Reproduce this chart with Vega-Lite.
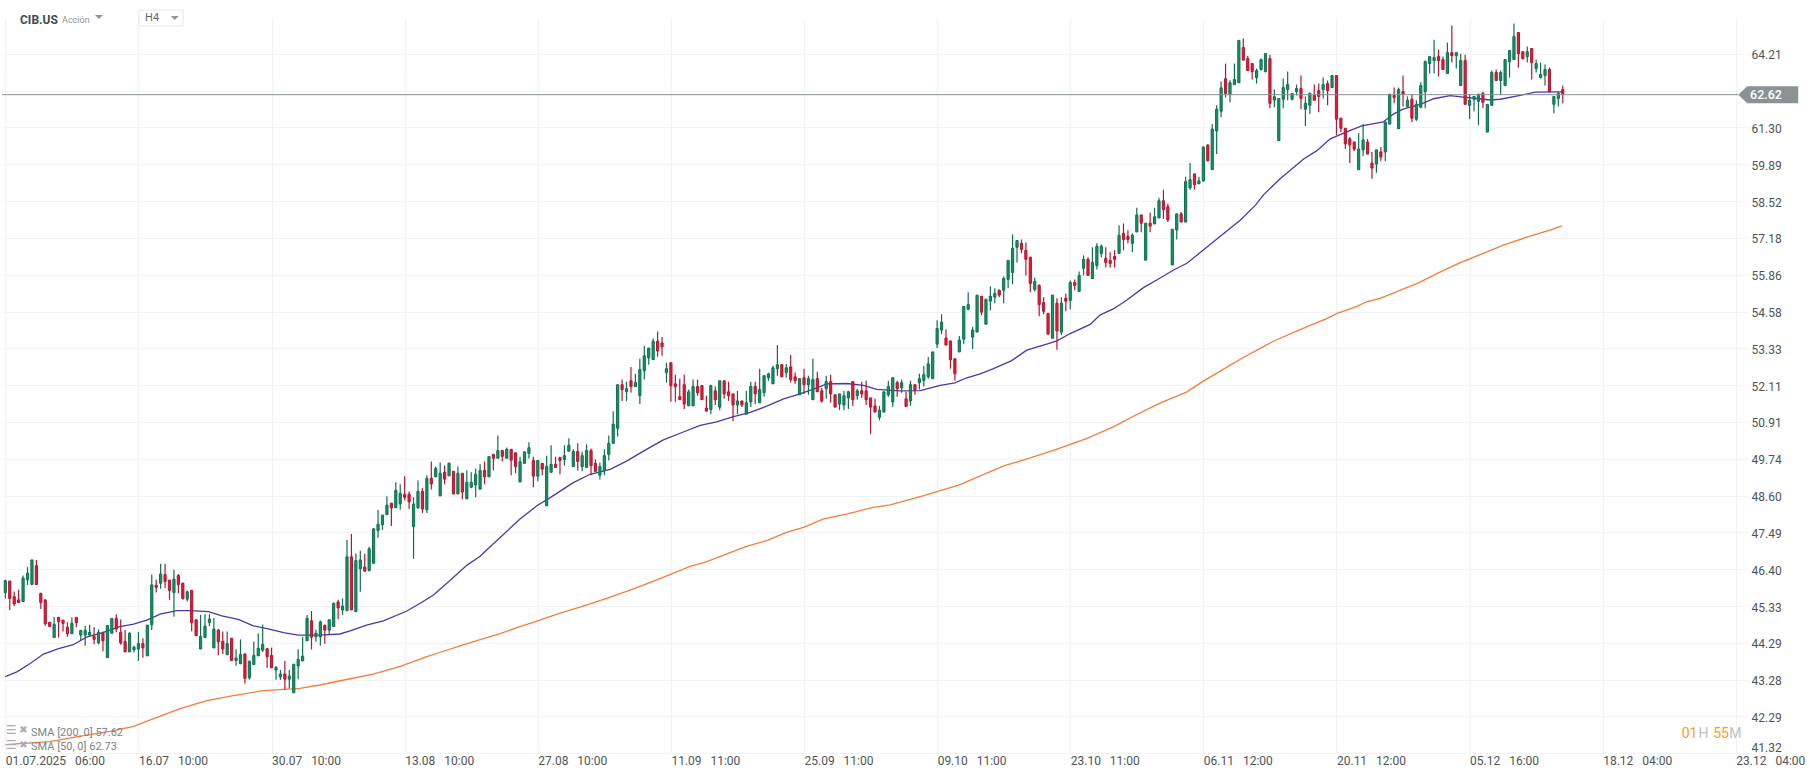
{
"$schema":"https://vega.github.io/schema/vega-lite/v6.json",
"width":1747,"height":735,"autosize":"none",
"padding":{"left":2,"top":18,"right":61,"bottom":26},
"background":"white",
"config":{"view":{"stroke":null},"font":"Roboto"},
"data":{"values":[{}]},
"datasets":{
"candles":[
{"i":0,"o":45.72,"h":46.09,"l":45.55,"c":46.06},{"i":1,"o":46.05,"h":46.06,"l":45.22,"c":45.55},{"i":2,"o":45.6,"h":45.75,"l":45.33,"c":45.39},{"i":3,"o":45.51,"h":45.8,"l":45.43,"c":45.43},{"i":4,"o":45.46,"h":46.21,"l":45.46,"c":46.14},{"i":5,"o":46.09,"h":46.46,"l":45.94,"c":46.28},{"i":6,"o":45.95,"h":46.67,"l":45.95,"c":46.67},{"i":7,"o":46.5,"h":46.67,"l":45.95,"c":45.95},{"i":8,"o":45.7,"h":45.7,"l":45.25,"c":45.43},{"i":9,"o":45.5,"h":45.53,"l":44.77,"c":44.83},
{"i":10,"o":44.87,"h":44.87,"l":44.75,"c":44.75},{"i":11,"o":44.44,"h":45.02,"l":44.44,"c":44.81},{"i":12,"o":45.01,"h":45.01,"l":44.44,"c":44.89},{"i":13,"o":44.93,"h":44.93,"l":44.61,"c":44.84},{"i":14,"o":44.73,"h":44.87,"l":44.46,"c":44.55},{"i":15,"o":44.55,"h":45.01,"l":44.55,"c":44.84},{"i":16,"o":45.01,"h":45.01,"l":44.73,"c":44.86},{"i":17,"o":44.51,"h":44.64,"l":44.37,"c":44.64},{"i":18,"o":44.51,"h":44.77,"l":44.21,"c":44.64},{"i":19,"o":44.51,"h":44.8,"l":44.46,"c":44.59},
{"i":20,"o":44.47,"h":44.73,"l":44.25,"c":44.39},{"i":21,"o":44.29,"h":44.67,"l":44.25,"c":44.59},{"i":22,"o":44.56,"h":44.61,"l":44.06,"c":44.35},{"i":23,"o":43.88,"h":44.78,"l":43.88,"c":44.78},{"i":24,"o":44.56,"h":44.98,"l":44.56,"c":44.98},{"i":25,"o":44.98,"h":45.1,"l":44.59,"c":44.68},{"i":26,"o":44.59,"h":44.95,"l":44.24,"c":44.29},{"i":27,"o":44.33,"h":44.65,"l":44.04,"c":44.04},{"i":28,"o":44.04,"h":44.59,"l":44.04,"c":44.56},{"i":29,"o":44.1,"h":44.21,"l":44.02,"c":44.17},
{"i":30,"o":44.12,"h":44.6,"l":43.79,"c":44.27},{"i":31,"o":44.27,"h":44.42,"l":43.88,"c":44.15},{"i":32,"o":43.93,"h":44.79,"l":43.93,"c":44.79},{"i":33,"o":44.8,"h":46.24,"l":44.65,"c":45.94},{"i":34,"o":45.93,"h":46.09,"l":45.72,"c":45.87},{"i":35,"o":45.99,"h":46.56,"l":45.83,"c":46.26},{"i":36,"o":46.24,"h":46.56,"l":45.85,"c":46.04},{"i":37,"o":46.08,"h":46.08,"l":45.51,"c":45.78},{"i":38,"o":45.72,"h":46.38,"l":45.03,"c":46.11},{"i":39,"o":46.21,"h":46.26,"l":45.7,"c":45.95},
{"i":40,"o":45.99,"h":45.99,"l":45.51,"c":45.55},{"i":41,"o":45.53,"h":45.78,"l":45.46,"c":45.74},{"i":42,"o":45.78,"h":45.8,"l":44.62,"c":44.86},{"i":43,"o":44.94,"h":44.95,"l":44.49,"c":44.49},{"i":44,"o":44.12,"h":45.08,"l":44.12,"c":44.47},{"i":45,"o":44.44,"h":45.1,"l":44.44,"c":44.76},{"i":46,"o":44.86,"h":45.1,"l":44.76,"c":44.96},{"i":47,"o":44.15,"h":44.99,"l":44.15,"c":44.68},{"i":48,"o":44.65,"h":44.68,"l":43.95,"c":44.32},{"i":49,"o":44.33,"h":44.61,"l":43.98,"c":44.12},
{"i":50,"o":43.96,"h":44.61,"l":43.96,"c":44.27},{"i":51,"o":44.42,"h":44.42,"l":43.8,"c":43.8},{"i":52,"o":43.8,"h":44.11,"l":43.66,"c":43.87},{"i":53,"o":43.71,"h":44.39,"l":43.71,"c":43.97},{"i":54,"o":43.98,"h":44.0,"l":43.17,"c":43.31},{"i":55,"o":43.33,"h":43.8,"l":43.27,"c":43.78},{"i":56,"o":43.69,"h":44.32,"l":43.69,"c":43.94},{"i":57,"o":43.93,"h":44.56,"l":43.93,"c":44.14},{"i":58,"o":44.09,"h":44.81,"l":44.04,"c":44.25},{"i":59,"o":44.13,"h":44.13,"l":43.6,"c":43.91},
{"i":60,"o":43.94,"h":44.16,"l":43.59,"c":43.6},{"i":61,"o":43.54,"h":43.65,"l":43.27,"c":43.61},{"i":62,"o":43.35,"h":43.54,"l":43.27,"c":43.43},{"i":63,"o":43.43,"h":43.79,"l":43.0,"c":43.29},{"i":64,"o":43.29,"h":43.54,"l":43.04,"c":43.37},{"i":65,"o":42.92,"h":43.7,"l":42.92,"c":43.7},{"i":66,"o":43.65,"h":44.11,"l":43.29,"c":43.83},{"i":67,"o":43.79,"h":44.46,"l":43.79,"c":43.92},{"i":68,"o":44.35,"h":45.08,"l":44.35,"c":44.98},{"i":69,"o":44.91,"h":45.19,"l":44.11,"c":44.45},
{"i":70,"o":44.46,"h":44.66,"l":44.32,"c":44.56},{"i":71,"o":44.46,"h":44.92,"l":44.21,"c":44.88},{"i":72,"o":44.78,"h":44.81,"l":44.27,"c":44.65},{"i":73,"o":44.65,"h":44.94,"l":44.51,"c":44.94},{"i":74,"o":44.75,"h":45.43,"l":44.75,"c":45.41},{"i":75,"o":45.45,"h":45.51,"l":44.96,"c":45.28},{"i":76,"o":45.22,"h":45.55,"l":45.08,"c":45.33},{"i":77,"o":45.2,"h":47.26,"l":45.2,"c":46.76},{"i":78,"o":46.76,"h":47.44,"l":45.22,"c":45.22},{"i":79,"o":45.17,"h":46.86,"l":45.17,"c":46.65},
{"i":80,"o":46.41,"h":46.94,"l":45.74,"c":46.67},{"i":81,"o":46.46,"h":46.85,"l":46.34,"c":46.34},{"i":82,"o":46.36,"h":47.06,"l":46.33,"c":47.0},{"i":83,"o":46.57,"h":47.62,"l":46.57,"c":47.59},{"i":84,"o":47.54,"h":48.16,"l":47.33,"c":47.73},{"i":85,"o":47.72,"h":48.01,"l":47.56,"c":48.01},{"i":86,"o":48.02,"h":48.58,"l":48.02,"c":48.31},{"i":87,"o":48.37,"h":48.37,"l":47.68,"c":48.23},{"i":88,"o":48.23,"h":49.01,"l":48.23,"c":48.76},{"i":89,"o":48.35,"h":48.95,"l":48.17,"c":48.67},
{"i":90,"o":48.64,"h":49.2,"l":48.46,"c":48.55},{"i":91,"o":48.64,"h":48.73,"l":48.19,"c":48.41},{"i":92,"o":47.66,"h":48.55,"l":46.7,"c":48.34},{"i":93,"o":48.23,"h":49.07,"l":48.19,"c":48.73},{"i":94,"o":48.73,"h":48.83,"l":48.07,"c":48.19},{"i":95,"o":48.17,"h":49.23,"l":48.07,"c":49.13},{"i":96,"o":49.13,"h":49.66,"l":48.79,"c":48.96},{"i":97,"o":49.18,"h":49.5,"l":49.18,"c":49.44},{"i":98,"o":48.59,"h":49.63,"l":48.59,"c":49.29},{"i":99,"o":49.32,"h":49.53,"l":48.95,"c":49.11},
{"i":100,"o":49.21,"h":49.63,"l":49.21,"c":49.6},{"i":101,"o":49.35,"h":49.35,"l":48.65,"c":48.65},{"i":102,"o":48.65,"h":49.5,"l":48.65,"c":49.29},{"i":103,"o":49.29,"h":49.29,"l":48.49,"c":48.71},{"i":104,"o":48.5,"h":49.38,"l":48.5,"c":49.01},{"i":105,"o":48.86,"h":49.32,"l":48.83,"c":49.01},{"i":106,"o":48.93,"h":49.44,"l":48.55,"c":49.26},{"i":107,"o":48.8,"h":49.57,"l":48.8,"c":49.38},{"i":108,"o":49.38,"h":49.66,"l":48.95,"c":49.18},{"i":109,"o":49.18,"h":49.81,"l":49.18,"c":49.81},
{"i":110,"o":49.88,"h":49.9,"l":49.38,"c":49.76},{"i":111,"o":49.76,"h":50.48,"l":49.76,"c":50.0},{"i":112,"o":50.0,"h":50.0,"l":49.66,"c":49.82},{"i":113,"o":49.76,"h":50.1,"l":49.76,"c":50.04},{"i":114,"o":50.04,"h":50.04,"l":49.23,"c":49.7},{"i":115,"o":49.93,"h":49.93,"l":49.29,"c":49.5},{"i":116,"o":49.02,"h":49.81,"l":49.02,"c":49.65},{"i":117,"o":49.6,"h":49.96,"l":49.6,"c":49.96},{"i":118,"o":49.91,"h":50.26,"l":49.75,"c":50.09},{"i":119,"o":49.69,"h":49.81,"l":48.86,"c":49.2},
{"i":120,"o":49.2,"h":49.69,"l":49.04,"c":49.69},{"i":121,"o":49.6,"h":49.6,"l":49.23,"c":49.42},{"i":122,"o":48.29,"h":49.84,"l":48.29,"c":49.5},{"i":123,"o":49.32,"h":50.17,"l":49.32,"c":49.57},{"i":124,"o":49.57,"h":49.81,"l":49.47,"c":49.47},{"i":125,"o":49.78,"h":49.81,"l":49.26,"c":49.69},{"i":126,"o":49.72,"h":50.17,"l":49.53,"c":49.84},{"i":127,"o":49.98,"h":50.39,"l":49.98,"c":50.17},{"i":128,"o":49.5,"h":50.04,"l":49.5,"c":49.97},{"i":129,"o":49.97,"h":50.23,"l":49.38,"c":49.66},
{"i":130,"o":49.5,"h":49.97,"l":49.35,"c":49.84},{"i":131,"o":49.47,"h":50.2,"l":49.47,"c":50.0},{"i":132,"o":50.0,"h":50.07,"l":49.23,"c":49.53},{"i":133,"o":49.6,"h":49.72,"l":49.35,"c":49.35},{"i":134,"o":49.23,"h":49.63,"l":49.1,"c":49.5},{"i":135,"o":49.37,"h":50.04,"l":49.23,"c":49.84},{"i":136,"o":49.88,"h":50.48,"l":49.69,"c":50.23},{"i":137,"o":50.23,"h":51.26,"l":50.23,"c":50.84},{"i":138,"o":50.71,"h":52.12,"l":50.45,"c":52.12},{"i":139,"o":52.12,"h":52.29,"l":51.59,"c":51.96},
{"i":140,"o":51.89,"h":52.22,"l":51.59,"c":51.99},{"i":141,"o":52.25,"h":52.71,"l":51.86,"c":52.06},{"i":142,"o":52.06,"h":52.48,"l":52.06,"c":52.19},{"i":143,"o":51.76,"h":52.98,"l":51.49,"c":52.62},{"i":144,"o":52.58,"h":53.41,"l":52.29,"c":53.08},{"i":145,"o":53.01,"h":53.34,"l":52.78,"c":53.34},{"i":146,"o":52.95,"h":53.67,"l":52.95,"c":53.57},{"i":147,"o":53.57,"h":53.9,"l":53.05,"c":53.24},{"i":148,"o":53.51,"h":53.71,"l":53.08,"c":53.38},{"i":149,"o":52.52,"h":52.85,"l":52.19,"c":52.65},
{"i":150,"o":52.85,"h":52.85,"l":51.56,"c":52.09},{"i":151,"o":52.15,"h":52.45,"l":51.56,"c":52.06},{"i":152,"o":51.73,"h":52.32,"l":51.63,"c":51.63},{"i":153,"o":52.12,"h":52.45,"l":51.33,"c":51.49},{"i":154,"o":51.43,"h":51.96,"l":51.43,"c":51.89},{"i":155,"o":51.43,"h":52.29,"l":51.43,"c":52.06},{"i":156,"o":52.06,"h":52.29,"l":51.76,"c":51.86},{"i":157,"o":52.09,"h":52.09,"l":51.63,"c":51.63},{"i":158,"o":51.36,"h":51.76,"l":51.26,"c":51.26},{"i":159,"o":51.31,"h":52.12,"l":51.16,"c":52.09},
{"i":160,"o":51.92,"h":52.06,"l":51.46,"c":51.63},{"i":161,"o":51.39,"h":52.25,"l":51.29,"c":52.25},{"i":162,"o":52.25,"h":52.25,"l":51.66,"c":51.82},{"i":163,"o":51.89,"h":52.22,"l":51.59,"c":51.76},{"i":164,"o":51.82,"h":51.82,"l":50.93,"c":51.46},{"i":165,"o":51.46,"h":51.92,"l":51.16,"c":51.59},{"i":166,"o":51.59,"h":51.59,"l":51.39,"c":51.46},{"i":167,"o":51.16,"h":51.92,"l":51.16,"c":51.53},{"i":168,"o":51.56,"h":52.22,"l":51.39,"c":52.06},{"i":169,"o":52.06,"h":52.22,"l":51.49,"c":51.82},
{"i":170,"o":51.53,"h":52.65,"l":51.53,"c":51.96},{"i":171,"o":51.86,"h":52.42,"l":51.73,"c":52.42},{"i":172,"o":52.35,"h":52.52,"l":52.25,"c":52.48},{"i":173,"o":52.15,"h":52.75,"l":52.15,"c":52.68},{"i":174,"o":52.65,"h":53.44,"l":52.42,"c":52.78},{"i":175,"o":52.78,"h":52.81,"l":52.38,"c":52.38},{"i":176,"o":52.52,"h":52.81,"l":52.35,"c":52.68},{"i":177,"o":52.71,"h":53.11,"l":52.19,"c":52.29},{"i":178,"o":52.38,"h":52.52,"l":52.15,"c":52.25},{"i":179,"o":51.79,"h":52.32,"l":51.79,"c":52.32},
{"i":180,"o":52.35,"h":52.65,"l":51.82,"c":52.12},{"i":181,"o":52.12,"h":52.42,"l":51.79,"c":52.32},{"i":182,"o":51.63,"h":52.98,"l":51.63,"c":52.29},{"i":183,"o":52.32,"h":52.55,"l":51.89,"c":51.89},{"i":184,"o":51.92,"h":52.02,"l":51.53,"c":51.59},{"i":185,"o":51.99,"h":52.42,"l":51.66,"c":52.22},{"i":186,"o":52.22,"h":52.45,"l":51.53,"c":51.82},{"i":187,"o":51.79,"h":51.79,"l":51.39,"c":51.39},{"i":188,"o":51.49,"h":51.82,"l":51.29,"c":51.82},{"i":189,"o":51.46,"h":51.92,"l":51.29,"c":51.76},
{"i":190,"o":51.69,"h":51.92,"l":51.33,"c":51.89},{"i":191,"o":52.22,"h":52.22,"l":51.43,"c":51.63},{"i":192,"o":51.76,"h":51.99,"l":51.63,"c":51.92},{"i":193,"o":51.92,"h":52.22,"l":51.69,"c":51.82},{"i":194,"o":51.92,"h":52.25,"l":51.46,"c":51.63},{"i":195,"o":51.69,"h":51.69,"l":50.52,"c":51.39},{"i":196,"o":51.43,"h":51.66,"l":51.23,"c":51.23},{"i":197,"o":51.06,"h":51.43,"l":50.96,"c":51.29},{"i":198,"o":51.23,"h":51.89,"l":51.23,"c":51.89},{"i":199,"o":51.79,"h":52.25,"l":51.73,"c":52.06},
{"i":200,"o":51.56,"h":52.35,"l":51.39,"c":52.35},{"i":201,"o":52.19,"h":52.25,"l":51.73,"c":51.99},{"i":202,"o":52.02,"h":52.29,"l":51.86,"c":52.19},{"i":203,"o":51.66,"h":51.89,"l":51.41,"c":51.41},{"i":204,"o":51.59,"h":52.25,"l":51.43,"c":52.12},{"i":205,"o":52.12,"h":52.12,"l":51.79,"c":51.95},{"i":206,"o":52.19,"h":52.48,"l":51.96,"c":52.32},{"i":207,"o":52.26,"h":52.74,"l":52.06,"c":52.45},{"i":208,"o":52.38,"h":53.04,"l":52.32,"c":52.81},{"i":209,"o":52.32,"h":53.21,"l":52.32,"c":53.21},
{"i":210,"o":53.47,"h":54.28,"l":53.34,"c":54.0},{"i":211,"o":53.95,"h":54.49,"l":53.81,"c":54.22},{"i":212,"o":53.68,"h":53.98,"l":53.44,"c":53.44},{"i":213,"o":53.58,"h":53.58,"l":52.65,"c":52.95},{"i":214,"o":52.98,"h":52.98,"l":52.25,"c":52.48},{"i":215,"o":53.21,"h":53.75,"l":53.21,"c":53.61},{"i":216,"o":53.64,"h":54.76,"l":53.47,"c":54.76},{"i":217,"o":54.66,"h":55.25,"l":54.63,"c":54.82},{"i":218,"o":53.71,"h":54.05,"l":53.31,"c":53.95},{"i":219,"o":53.88,"h":55.15,"l":53.88,"c":55.15},
{"i":220,"o":55.11,"h":55.11,"l":54.46,"c":54.56},{"i":221,"o":54.15,"h":55.01,"l":54.15,"c":55.01},{"i":222,"o":54.94,"h":55.46,"l":54.63,"c":55.11},{"i":223,"o":55.08,"h":55.39,"l":54.87,"c":55.21},{"i":224,"o":55.32,"h":55.35,"l":55.08,"c":55.15},{"i":225,"o":55.32,"h":55.8,"l":54.87,"c":55.73},{"i":226,"o":55.7,"h":56.37,"l":55.39,"c":56.37},{"i":227,"o":55.94,"h":57.3,"l":55.53,"c":56.8},{"i":228,"o":56.84,"h":57.08,"l":56.3,"c":57.08},{"i":229,"o":56.98,"h":57.12,"l":56.62,"c":56.76},
{"i":230,"o":56.73,"h":57.01,"l":55.84,"c":56.41},{"i":231,"o":56.48,"h":56.51,"l":55.25,"c":55.56},{"i":232,"o":55.35,"h":55.77,"l":55.28,"c":55.63},{"i":233,"o":55.49,"h":55.53,"l":54.42,"c":54.82},{"i":234,"o":54.89,"h":55.08,"l":54.49,"c":54.59},{"i":235,"o":54.52,"h":54.52,"l":53.81,"c":53.81},{"i":236,"o":53.67,"h":55.15,"l":53.67,"c":55.15},{"i":237,"o":54.87,"h":55.04,"l":53.28,"c":53.92},{"i":238,"o":53.88,"h":55.08,"l":53.78,"c":54.87},{"i":239,"o":55.04,"h":55.21,"l":54.59,"c":54.94},
{"i":240,"o":54.97,"h":55.66,"l":54.66,"c":55.59},{"i":241,"o":55.59,"h":55.7,"l":55.32,"c":55.49},{"i":242,"o":55.28,"h":55.98,"l":55.28,"c":55.84},{"i":243,"o":56.09,"h":56.55,"l":55.84,"c":56.41},{"i":244,"o":56.41,"h":56.48,"l":55.84,"c":55.84},{"i":245,"o":55.73,"h":56.84,"l":55.73,"c":56.3},{"i":246,"o":56.19,"h":56.98,"l":56.05,"c":56.87},{"i":247,"o":56.62,"h":56.94,"l":56.48,"c":56.87},{"i":248,"o":56.44,"h":56.84,"l":56.12,"c":56.3},{"i":249,"o":56.37,"h":56.66,"l":56.12,"c":56.26},
{"i":250,"o":56.51,"h":56.73,"l":56.12,"c":56.41},{"i":251,"o":56.62,"h":57.63,"l":56.62,"c":57.27},{"i":252,"o":57.34,"h":57.7,"l":56.73,"c":57.12},{"i":253,"o":57.23,"h":57.45,"l":56.98,"c":57.12},{"i":254,"o":56.98,"h":57.34,"l":56.66,"c":57.27},{"i":255,"o":57.39,"h":58.27,"l":57.39,"c":58.01},{"i":256,"o":58.01,"h":58.01,"l":57.38,"c":57.71},{"i":257,"o":56.38,"h":57.71,"l":56.38,"c":57.71},{"i":258,"o":57.71,"h":58.09,"l":57.38,"c":57.6},{"i":259,"o":57.68,"h":58.27,"l":57.68,"c":57.94},
{"i":260,"o":57.9,"h":58.64,"l":57.9,"c":58.53},{"i":261,"o":58.53,"h":58.94,"l":57.86,"c":58.2},{"i":262,"o":58.31,"h":58.42,"l":57.75,"c":57.83},{"i":263,"o":56.21,"h":57.49,"l":56.21,"c":57.49},{"i":264,"o":57.46,"h":58.05,"l":57.12,"c":58.05},{"i":265,"o":58.05,"h":58.12,"l":57.75,"c":57.75},{"i":266,"o":57.75,"h":59.42,"l":57.75,"c":59.24},{"i":267,"o":59.01,"h":59.94,"l":58.94,"c":59.31},{"i":268,"o":59.53,"h":59.53,"l":58.94,"c":59.13},{"i":269,"o":59.16,"h":59.42,"l":59.16,"c":59.27},
{"i":270,"o":59.27,"h":60.58,"l":59.24,"c":60.54},{"i":271,"o":60.62,"h":60.66,"l":60.02,"c":60.02},{"i":272,"o":59.69,"h":61.43,"l":59.69,"c":61.24},{"i":273,"o":61.17,"h":62.16,"l":60.28,"c":62.01},{"i":274,"o":61.93,"h":63.1,"l":61.7,"c":62.85},{"i":275,"o":63.21,"h":63.82,"l":62.47,"c":62.63},{"i":276,"o":62.58,"h":63.15,"l":62.28,"c":63.05},{"i":277,"o":62.98,"h":63.82,"l":62.98,"c":63.18},{"i":278,"o":63.05,"h":64.79,"l":63.05,"c":64.75},{"i":279,"o":64.47,"h":64.84,"l":63.94,"c":63.96},
{"i":280,"o":64.02,"h":64.14,"l":63.54,"c":63.54},{"i":281,"o":63.82,"h":63.82,"l":63.18,"c":63.5},{"i":282,"o":63.26,"h":63.62,"l":63.02,"c":63.54},{"i":283,"o":63.58,"h":64.02,"l":63.54,"c":63.98},{"i":284,"o":63.5,"h":64.22,"l":63.46,"c":64.22},{"i":285,"o":64.02,"h":64.18,"l":62.05,"c":62.24},{"i":286,"o":62.37,"h":62.78,"l":62.09,"c":62.5},{"i":287,"o":60.79,"h":62.43,"l":60.79,"c":62.43},{"i":288,"o":62.4,"h":63.22,"l":62.05,"c":62.86},{"i":289,"o":62.78,"h":63.5,"l":62.36,"c":62.98},
{"i":290,"o":62.4,"h":62.63,"l":62.36,"c":62.63},{"i":291,"o":62.7,"h":62.98,"l":62.55,"c":62.82},{"i":292,"o":62.82,"h":63.34,"l":62.01,"c":62.43},{"i":293,"o":62.01,"h":62.51,"l":61.35,"c":62.24},{"i":294,"o":62.16,"h":62.67,"l":61.82,"c":62.63},{"i":295,"o":62.55,"h":62.98,"l":62.36,"c":62.36},{"i":296,"o":62.74,"h":63.02,"l":61.89,"c":62.51},{"i":297,"o":62.78,"h":63.26,"l":62.43,"c":62.98},{"i":298,"o":63.02,"h":63.14,"l":62.16,"c":62.74},{"i":299,"o":62.86,"h":63.34,"l":62.86,"c":63.34},
{"i":300,"o":63.34,"h":63.34,"l":61.01,"c":61.62},{"i":301,"o":61.66,"h":61.66,"l":61.12,"c":61.27},{"i":302,"o":61.27,"h":61.27,"l":60.47,"c":60.67},{"i":303,"o":60.86,"h":60.93,"l":59.94,"c":60.63},{"i":304,"o":60.74,"h":60.74,"l":60.4,"c":60.47},{"i":305,"o":59.69,"h":61.08,"l":59.69,"c":60.47},{"i":306,"o":60.44,"h":61.43,"l":60.21,"c":60.82},{"i":307,"o":60.74,"h":60.86,"l":60.28,"c":60.28},{"i":308,"o":59.94,"h":60.36,"l":59.35,"c":59.75},{"i":309,"o":59.9,"h":60.44,"l":59.57,"c":60.44},
{"i":310,"o":60.36,"h":60.55,"l":60.02,"c":60.17},{"i":311,"o":60.36,"h":61.51,"l":60.02,"c":61.51},{"i":312,"o":61.43,"h":62.63,"l":61.43,"c":62.59},{"i":313,"o":62.55,"h":62.86,"l":62.24,"c":62.47},{"i":314,"o":61.25,"h":62.86,"l":61.25,"c":62.78},{"i":315,"o":62.7,"h":63.34,"l":62.12,"c":62.59},{"i":316,"o":62.12,"h":62.51,"l":62.09,"c":62.36},{"i":317,"o":62.4,"h":62.59,"l":61.51,"c":61.66},{"i":318,"o":61.62,"h":62.36,"l":61.55,"c":62.2},{"i":319,"o":62.09,"h":63.07,"l":62.05,"c":62.94},
{"i":320,"o":62.7,"h":63.94,"l":62.05,"c":63.9},{"i":321,"o":63.82,"h":64.1,"l":63.42,"c":64.1},{"i":322,"o":63.94,"h":64.79,"l":63.42,"c":64.06},{"i":323,"o":64.1,"h":64.39,"l":63.3,"c":63.94},{"i":324,"o":63.98,"h":64.1,"l":63.58,"c":63.58},{"i":325,"o":63.42,"h":64.67,"l":63.42,"c":64.26},{"i":326,"o":64.26,"h":65.37,"l":63.86,"c":64.14},{"i":327,"o":64.14,"h":64.26,"l":63.62,"c":64.26},{"i":328,"o":62.94,"h":64.22,"l":62.94,"c":63.94},{"i":329,"o":63.94,"h":64.18,"l":62.2,"c":62.2},
{"i":330,"o":62.16,"h":62.59,"l":61.62,"c":62.36},{"i":331,"o":62.4,"h":62.51,"l":61.93,"c":62.51},{"i":332,"o":62.32,"h":62.63,"l":61.39,"c":62.59},{"i":333,"o":62.63,"h":62.7,"l":62.05,"c":62.28},{"i":334,"o":61.12,"h":62.2,"l":61.12,"c":62.2},{"i":335,"o":62.16,"h":63.54,"l":62.16,"c":63.46},{"i":336,"o":63.46,"h":63.58,"l":63.14,"c":63.14},{"i":337,"o":63.14,"h":63.54,"l":62.59,"c":63.46},{"i":338,"o":62.94,"h":63.98,"l":62.94,"c":63.98},{"i":339,"o":63.9,"h":64.35,"l":63.26,"c":64.35},
{"i":340,"o":63.98,"h":65.45,"l":63.98,"c":64.92},{"i":341,"o":65.08,"h":65.08,"l":63.66,"c":64.22},{"i":342,"o":64.3,"h":64.3,"l":63.98,"c":64.02},{"i":343,"o":64.1,"h":64.51,"l":63.86,"c":64.3},{"i":344,"o":64.43,"h":64.43,"l":63.18,"c":63.86},{"i":345,"o":63.62,"h":63.98,"l":63.46,"c":63.82},{"i":346,"o":63.26,"h":63.86,"l":63.22,"c":63.38},{"i":347,"o":63.34,"h":63.78,"l":62.94,"c":63.58},{"i":348,"o":63.58,"h":63.66,"l":62.7,"c":62.7},{"i":349,"o":62.2,"h":62.51,"l":61.85,"c":62.51},
{"i":350,"o":62.43,"h":62.7,"l":62.12,"c":62.63},{"i":351,"o":62.78,"h":62.94,"l":62.24,"c":62.59}
],
"sma50":[
{"i":0,"v":43.36},{"i":2.6,"v":43.49},{"i":5.6,"v":43.72},{"i":8.6,"v":43.98},{"i":12,"v":44.13},{"i":15.3,"v":44.24},{"i":18.3,"v":44.45},{"i":22,"v":44.58},{"i":25.8,"v":44.75},{"i":28.9,"v":44.82},{"i":31.9,"v":44.93},{"i":34.9,"v":45.1},{"i":38.6,"v":45.2},{"i":41.6,"v":45.2},{"i":45.8,"v":45.17},{"i":48.8,"v":45.05},{"i":52.5,"v":44.95},{"i":55.9,"v":44.77},{"i":59.7,"v":44.67},{"i":62.7,"v":44.58},{"i":66,"v":44.51},{"i":70.9,"v":44.51},{"i":75.4,"v":44.54},{"i":77.7,"v":44.63},{"i":81.4,"v":44.79},{"i":85.2,"v":44.91},{"i":90.5,"v":45.19},{"i":93.5,"v":45.41},{"i":96.5,"v":45.65},{"i":100.2,"v":46.07},{"i":104,"v":46.51},{"i":107,"v":46.78},{"i":109.2,"v":47.05},{"i":116,"v":47.89},{"i":119.8,"v":48.29},{"i":122.8,"v":48.54},{"i":128,"v":49.0},{"i":131.8,"v":49.26},{"i":136.3,"v":49.41},{"i":140,"v":49.67},{"i":144.5,"v":50.04},{"i":148.3,"v":50.34},{"i":152.8,"v":50.59},{"i":156.6,"v":50.8},{"i":160.3,"v":50.91},{"i":164.1,"v":51.08},{"i":167.9,"v":51.22},{"i":171.6,"v":51.42},{"i":175.4,"v":51.66},{"i":179.1,"v":51.82},{"i":182.9,"v":52.02},{"i":185.1,"v":52.15},{"i":189.6,"v":52.16},{"i":193.4,"v":52.1},{"i":196.4,"v":51.97},{"i":201.7,"v":51.92},{"i":206.2,"v":51.93},{"i":210.7,"v":52.1},{"i":214,"v":52.18},{"i":216.7,"v":52.35},{"i":219.7,"v":52.48},{"i":222.7,"v":52.65},{"i":226.8,"v":52.92},{"i":230.2,"v":53.27},{"i":234.7,"v":53.47},{"i":237,"v":53.58},{"i":240,"v":53.83},{"i":244.5,"v":54.14},{"i":246.7,"v":54.46},{"i":249.8,"v":54.68},{"i":252.7,"v":54.97},{"i":256.5,"v":55.41},{"i":259.5,"v":55.68},{"i":263.3,"v":56.03},{"i":266.3,"v":56.27},{"i":269.3,"v":56.65},{"i":273.4,"v":57.18},{"i":278.3,"v":57.82},{"i":281.7,"v":58.36},{"i":283.6,"v":58.76},{"i":287.3,"v":59.35},{"i":292.6,"v":60.09},{"i":295.6,"v":60.41},{"i":298.6,"v":60.86},{"i":302.3,"v":61.13},{"i":305.7,"v":61.36},{"i":310.6,"v":61.52},{"i":312.8,"v":61.82},{"i":315,"v":62.01},{"i":318.9,"v":62.2},{"i":321.9,"v":62.42},{"i":325.6,"v":62.54},{"i":328.6,"v":62.48},{"i":331.6,"v":62.43},{"i":334.6,"v":62.37},{"i":336.9,"v":62.4},{"i":341.4,"v":62.55},{"i":344.8,"v":62.68},{"i":350.8,"v":62.69}
],
"sma200":[
{"i":0,"v":41.54},{"i":10,"v":41.62},{"i":16,"v":41.74},{"i":23.6,"v":41.89},{"i":28.9,"v":42.02},{"i":34.9,"v":42.29},{"i":39.4,"v":42.49},{"i":45.4,"v":42.71},{"i":51.4,"v":42.84},{"i":58.2,"v":42.98},{"i":66.4,"v":43.04},{"i":70.9,"v":43.13},{"i":76.9,"v":43.28},{"i":82.9,"v":43.43},{"i":89,"v":43.64},{"i":95,"v":43.91},{"i":98,"v":44.03},{"i":102.5,"v":44.21},{"i":107,"v":44.38},{"i":111.5,"v":44.55},{"i":116,"v":44.75},{"i":120.5,"v":44.93},{"i":125,"v":45.13},{"i":129.5,"v":45.3},{"i":135.5,"v":45.55},{"i":140,"v":45.75},{"i":144.5,"v":45.97},{"i":149.8,"v":46.24},{"i":154.3,"v":46.48},{"i":158,"v":46.61},{"i":162.6,"v":46.85},{"i":167,"v":47.07},{"i":171.6,"v":47.24},{"i":176,"v":47.49},{"i":179.9,"v":47.64},{"i":184.4,"v":47.89},{"i":189.6,"v":48.04},{"i":195.6,"v":48.24},{"i":199.4,"v":48.32},{"i":207,"v":48.6},{"i":215,"v":48.93},{"i":225,"v":49.52},{"i":231,"v":49.77},{"i":237,"v":50.05},{"i":243.8,"v":50.39},{"i":249.8,"v":50.76},{"i":255,"v":51.15},{"i":260.2,"v":51.52},{"i":266.2,"v":51.88},{"i":270,"v":52.24},{"i":273.8,"v":52.57},{"i":278.6,"v":52.99},{"i":282.8,"v":53.33},{"i":285.8,"v":53.57},{"i":291.8,"v":53.96},{"i":297.8,"v":54.34},{"i":300,"v":54.51},{"i":304.6,"v":54.76},{"i":306.8,"v":54.92},{"i":309.8,"v":55.04},{"i":313.6,"v":55.27},{"i":318.5,"v":55.58},{"i":322.6,"v":55.9},{"i":327.9,"v":56.29},{"i":332.4,"v":56.58},{"i":337.6,"v":56.92},{"i":343.6,"v":57.24},{"i":348.1,"v":57.46},{"i":350.8,"v":57.61}
]
},
"layer":[
{"data":{"name":"sma200"},"mark":{"type":"line","color":"#f57c3c","strokeWidth":1.3},
 "encoding":{
  "x":{"field":"i","type":"quantitative","title":null,"scale":{"domain":[-0.75,392.97],"nice":false,"zero":false,"padding":0},
   "axis":{"values":[0,30,60,90,120,150,180,210,240,270,300,330,360,390],"grid":true,"gridColor":"#f2f3f4","gridWidth":1.2,"ticks":false,"domain":false,"labelAlign":"left","labelColor":"#4d5458","labelFont":"Roboto","labelFontSize":12,"labelPadding":2,"labelOverlap":false,"labelBound":false,"labelFlush":false,
    "labelExpr":"['01.07.2025\u00a0\u00a0\u00a006:00','16.07\u00a0\u00a0\u00a010:00','30.07\u00a0\u00a0\u00a010:00','13.08\u00a0\u00a0\u00a010:00','27.08\u00a0\u00a0\u00a010:00','11.09\u00a0\u00a0\u00a011:00','25.09\u00a0\u00a0\u00a011:00','09.10\u00a0\u00a0\u00a011:00','23.10\u00a0\u00a0\u00a011:00','06.11\u00a0\u00a0\u00a012:00','20.11\u00a0\u00a0\u00a012:00','05.12\u00a0\u00a0\u00a016:00','18.12\u00a0\u00a0\u00a004:00','23.12\u00a0\u00a0\u00a004:00'][datum.value/30]"}},
  "y":{"field":"v","type":"quantitative","title":null,"scale":{"type":"log","domain":[41.32,65.68],"nice":false,"zero":false},
   "axis":{"orient":"right","values":[41.32,42.29,43.28,44.29,45.33,46.4,47.49,48.6,49.74,50.91,52.11,53.33,54.58,55.86,57.18,58.52,59.89,61.3,62.73,64.21],"grid":true,"gridColor":"#f2f3f4","gridWidth":1.2,"ticks":false,"domain":false,"labelColor":"#4d5458","labelFont":"Roboto","labelFontSize":12,"labelPadding":2,"labelOffset":1,"labelOverlap":false,"labelBound":false,"labelFlush":true,
    "labelExpr":"datum.value==62.73?'':format(datum.value,'.2f')"}}
 }},
{"data":{"name":"sma50"},"mark":{"type":"line","color":"#4b38a8","strokeWidth":1.3},
 "encoding":{"x":{"field":"i","type":"quantitative"},"y":{"field":"v","type":"quantitative"}}},
{"data":{"name":"candles"},"mark":{"type":"rule","strokeWidth":1.2},
 "encoding":{"x":{"field":"i","type":"quantitative"},"y":{"field":"l","type":"quantitative"},"y2":{"field":"h"},
  "color":{"condition":{"test":"datum.c>=datum.o","value":"#0c7050"},"value":"#b5132f"}}},
{"data":{"name":"candles"},"mark":{"type":"bar","orient":"vertical","size":2.2,"strokeWidth":1},
 "encoding":{"x":{"field":"i","type":"quantitative"},"y":{"field":"o","type":"quantitative"},"y2":{"field":"c"},
  "fill":{"condition":{"test":"datum.c>=datum.o","value":"#159463"},"value":"#e01d3c"},
  "stroke":{"condition":{"test":"datum.c>=datum.o","value":"#0c7050"},"value":"#b5132f"}}},
{"mark":{"type":"rule","color":"#849092","strokeWidth":1},"encoding":{"x":{"datum":-0.75},"x2":{"datum":390.5},"y":{"datum":62.58}}},
{"mark":{"type":"point","filled":true,"fill":"#8a9294","opacity":1,"size":3600,"shape":"M-1,0L-0.7,-0.283L1,-0.283L1,0.283L-0.7,0.283Z"},"encoding":{"x":{"datum":397.3},"y":{"datum":62.58}}},
{"mark":{"type":"text","text":"62.62","align":"left","baseline":"middle","color":"#ffffff","font":"Roboto","fontSize":12.5,"fontWeight":500},"encoding":{"x":{"datum":393.2},"y":{"datum":62.58}}},
{"mark":{"type":"text","text":"CIB.US","align":"left","baseline":"middle","color":"#3d4a55","font":"Roboto","fontSize":12,"fontWeight":"bold"},"encoding":{"x":{"datum":3.31},"y":{"datum":65.61}}},
{"mark":{"type":"text","text":"Acción","align":"left","baseline":"middle","color":"#8a8f93","font":"Roboto","fontSize":9},"encoding":{"x":{"datum":12.78},"y":{"datum":65.6}}},
{"mark":{"type":"point","shape":"M-1,-0.5L1,-0.5L0,0.5Z","filled":true,"fill":"#909598","opacity":1,"size":64},"encoding":{"x":{"datum":21.1},"y":{"datum":65.72}}},
{"mark":{"type":"rect","fill":"#ffffff","stroke":"#e6e7e8","strokeWidth":1},"encoding":{"x":{"datum":30.1},"x2":{"datum":40.05},"y":{"datum":65.35},"y2":{"datum":66.01}}},
{"mark":{"type":"text","text":"H4","align":"left","baseline":"middle","color":"#5f666b","font":"Roboto","fontSize":11},"encoding":{"x":{"datum":31.5},"y":{"datum":65.66}}},
{"mark":{"type":"point","shape":"M-1,-0.5L1,-0.5L0,0.5Z","filled":true,"fill":"#909598","opacity":1,"size":64},"encoding":{"x":{"datum":38.2},"y":{"datum":65.68}}},
{"mark":{"type":"text","text":"\u2630","align":"center","baseline":"middle","color":"#a9adb0","font":"DejaVu Sans","fontSize":12},"encoding":{"x":{"datum":1.3},"y":{"datum":41.93}}},
{"mark":{"type":"text","text":"\u2716","align":"center","baseline":"middle","color":"#a9adb0","font":"DejaVu Sans","fontSize":10},"encoding":{"x":{"datum":4.1},"y":{"datum":41.93}}},
{"mark":{"type":"text","text":"SMA\u00a0[200,\u00a00]\u00a057.62","align":"left","baseline":"middle","color":"#7d8386","font":"Roboto","fontSize":11},"encoding":{"x":{"datum":5.8},"y":{"datum":41.85}}},
{"mark":{"type":"text","text":"\u2630","align":"center","baseline":"middle","color":"#a9adb0","font":"DejaVu Sans","fontSize":12},"encoding":{"x":{"datum":1.3},"y":{"datum":41.54}}},
{"mark":{"type":"text","text":"\u2716","align":"center","baseline":"middle","color":"#a9adb0","font":"DejaVu Sans","fontSize":10},"encoding":{"x":{"datum":4.1},"y":{"datum":41.54}}},
{"mark":{"type":"text","text":"SMA\u00a0[50,\u00a00]\u00a062.73","align":"left","baseline":"middle","color":"#7d8386","font":"Roboto","fontSize":11},"encoding":{"x":{"datum":5.8},"y":{"datum":41.48}}},
{"mark":{"type":"text","text":"01","align":"left","baseline":"middle","color":"#ff9a1f","font":"Roboto","fontSize":14},"encoding":{"x":{"datum":377.8},"y":{"datum":41.82}}},
{"mark":{"type":"text","text":"H","align":"left","baseline":"middle","color":"#bcc0c3","font":"Roboto","fontSize":14},"encoding":{"x":{"datum":381.6},"y":{"datum":41.82}}},
{"mark":{"type":"text","text":"55","align":"left","baseline":"middle","color":"#ff9a1f","font":"Roboto","fontSize":14},"encoding":{"x":{"datum":384.9},"y":{"datum":41.82}}},
{"mark":{"type":"text","text":"M","align":"left","baseline":"middle","color":"#bcc0c3","font":"Roboto","fontSize":14},"encoding":{"x":{"datum":388.5},"y":{"datum":41.82}}}
]
}
